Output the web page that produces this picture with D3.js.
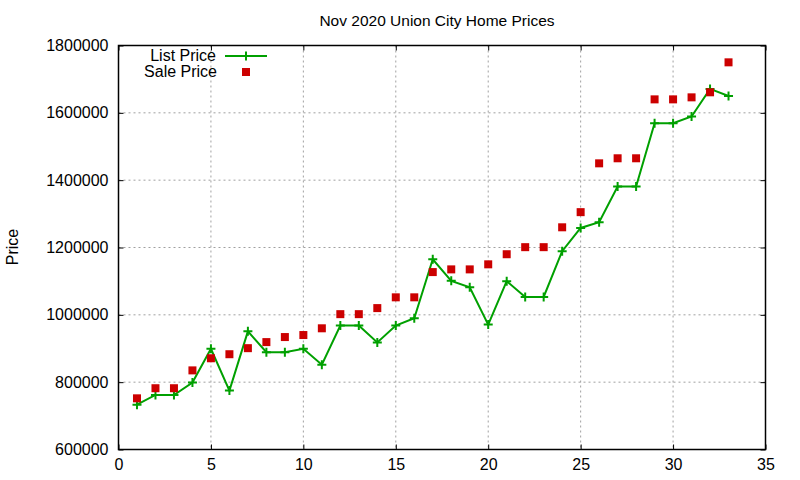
<!DOCTYPE html>
<html><head><meta charset="utf-8">
<script src="https://cdn.jsdelivr.net/npm/d3@7"></script>
<style>body{margin:0;background:#fff}svg{display:block;font-family:"Liberation Sans",Arial,sans-serif}</style>
</head><body><svg id="c" width="800" height="480"></svg>
<script>
const days = d3.range(1, 34);
const listPrice = [733000,762000,762000,799000,899000,775000,951000,889000,889000,899000,852000,968000,968000,918000,968000,990000,1165000,1101000,1082000,971000,1100000,1053000,1053000,1189000,1258000,1275000,1381000,1381000,1569000,1569000,1589000,1671000,1650000];
const salePrice = [752000,782000,782000,835000,871000,883000,901000,919000,934000,940000,960000,1002000,1002000,1020000,1052000,1052000,1127000,1135000,1135000,1150000,1180000,1201000,1201000,1260000,1305000,1450000,1465000,1465000,1640000,1640000,1646000,1661000,1750000];
const xTicks = [0,5,10,15,20,25,30,35];
const yTicks = [600000,800000,1000000,1200000,1400000,1600000,1800000];
const title = "Nov 2020 Union City Home Prices";
const yLabel = "Price";
const seriesNames = ["List Price","Sale Price"];

const svg = d3.select("#c");
const L=118.5,R=765.5,T=45.5,B=449.5;
const x = d3.scaleLinear().domain([0,35]).range([L,R]);
const y = d3.scaleLinear().domain([600000,1800000]).range([B,T]);

// grid
const g = svg.append("g");
g.selectAll(".gx").data(xTicks.slice(1,-1)).join("line")
 .attr("x1",d=>x(d)).attr("x2",d=>x(d)).attr("y1",T).attr("y2",B)
 .attr("stroke","#a0a0a0").attr("stroke-width",1).attr("stroke-dasharray","2,3");
g.selectAll(".gy").data(yTicks.slice(1,-1)).join("line")
 .attr("y1",d=>y(d)).attr("y2",d=>y(d)).attr("x1",L).attr("x2",R)
 .attr("stroke","#a0a0a0").attr("stroke-width",1).attr("stroke-dasharray","2,3");

// axes
const ax = svg.append("g").attr("transform",`translate(0,${B})`)
 .call(d3.axisBottom(x).tickValues(xTicks).tickSize(-5).tickPadding(9).tickFormat(d3.format("d")));
const ay = svg.append("g").attr("transform",`translate(${L},0)`)
 .call(d3.axisLeft(y).tickValues(yTicks).tickSize(-5).tickPadding(10).tickFormat(d3.format("d")));
const axT = svg.append("g").attr("transform",`translate(0,${T})`)
 .call(d3.axisTop(x).tickValues(xTicks).tickSize(-5).tickFormat(""));
const ayR = svg.append("g").attr("transform",`translate(${R},0)`)
 .call(d3.axisRight(y).tickValues(yTicks).tickSize(-5).tickFormat(""));
[ax,ay,axT,ayR].forEach(a=>{
  a.select(".domain").remove();
  a.selectAll("line").attr("stroke","#000");
  a.selectAll("text").attr("font-size",16).attr("fill","#000").attr("font-family","Liberation Sans, Arial, sans-serif");
});
svg.append("rect").attr("x",L).attr("y",T).attr("width",R-L).attr("height",B-T)
 .attr("fill","none").attr("stroke","#000").attr("stroke-width",1.5);

// title & label
svg.append("text").attr("x",437).attr("y",26).attr("text-anchor","middle")
 .attr("font-size",15.5).text(title);
svg.append("text").attr("transform","translate(18,247) rotate(-90)").attr("text-anchor","middle")
 .attr("font-size",16).text(yLabel);

const green="#00a000", red="#cc0000";
const line = d3.line().x((d,i)=>x(days[i])).y(d=>y(d));
svg.append("path").datum(listPrice).attr("d",line).attr("fill","none")
 .attr("stroke",green).attr("stroke-width",2);
const plus = (sel)=>sel.append("path").attr("d","M-4.5,0H4.5M0,-4.5V4.5").attr("stroke",green).attr("stroke-width",2);
svg.selectAll(".lp").data(listPrice).join("g")
 .attr("transform",(d,i)=>`translate(${x(days[i])},${y(d)})`).call(plus);
svg.selectAll(".sp").data(salePrice).join("rect")
 .attr("x",(d,i)=>x(days[i])-4).attr("y",d=>y(d)-4).attr("width",8).attr("height",8).attr("fill",red);

// legend
svg.append("text").attr("x",216).attr("y",61).attr("text-anchor","end").attr("font-size",16).text(seriesNames[0]);
svg.append("text").attr("x",217).attr("y",77).attr("text-anchor","end").attr("font-size",16).text(seriesNames[1]);
svg.append("line").attr("x1",225).attr("x2",267).attr("y1",56).attr("y2",56).attr("stroke",green).attr("stroke-width",2);
svg.append("g").attr("transform","translate(246,56)").call(plus);
svg.append("rect").attr("x",242).attr("y",68).attr("width",8).attr("height",8).attr("fill",red);
</script></body></html>
